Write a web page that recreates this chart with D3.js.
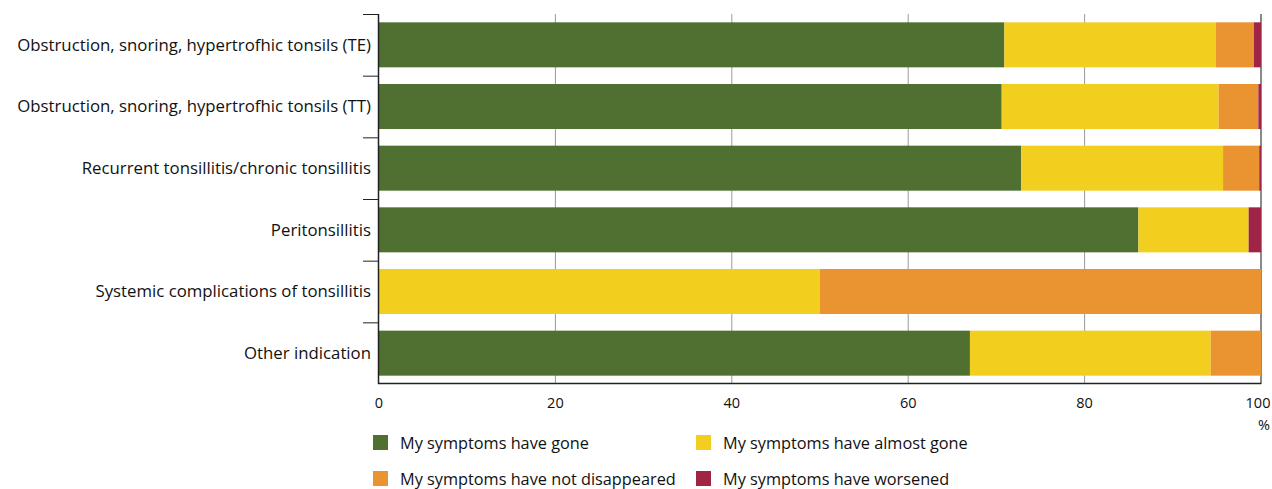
<!DOCTYPE html>
<html>
<head>
<meta charset="utf-8">
<style>
body { margin: 0; background: #fff; }
text { font-family: "Open Sans", "Noto Sans", sans-serif; fill: #111; }
</style>
</head>
<body>
<svg width="1272" height="489"></svg>
<script src="https://d3js.org/d3.v7.min.js"></script>
<script>
var categories = [
  "Obstruction, snoring, hypertrofhic tonsils (TE)",
  "Obstruction, snoring, hypertrofhic tonsils (TT)",
  "Recurrent tonsillitis/chronic tonsillitis",
  "Peritonsillitis",
  "Systemic complications of tonsillitis",
  "Other indication"
];
var seriesNames = [
  "My symptoms have gone",
  "My symptoms have almost gone",
  "My symptoms have not disappeared",
  "My symptoms have worsened"
];
var gone       = [70.9, 70.6, 72.8, 86.1, 0, 67.0];
var almostGone = [24.0, 24.6, 22.9, 12.5, 50, 27.3];
var notGone    = [4.3, 4.5, 4.1, 0, 50, 5.7];
var worsened   = [0.8, 0.3, 0.2, 1.4, 0, 0];
var xTicks = [0, 20, 40, 60, 80, 100];
var colors = ["#507032", "#f2cf1f", "#ea9331", "#a02446"];

var svg = d3.select("svg");
var mLeft = 379, mRight = 1261, mTop = 14, mBottom = 384;

var rows = categories.map(function(c, i) {
  return { cat: c, s0: gone[i], s1: almostGone[i], s2: notGone[i], s3: worsened[i] };
});
var stack = d3.stack().keys(["s0", "s1", "s2", "s3"])(rows);

var x = d3.scaleLinear().domain([0, 100]).range([mLeft, mRight]);
var y = d3.scaleBand().domain(categories).range([mTop, mBottom]).paddingInner(0.27).paddingOuter(0.135);

// gridlines
svg.append("g").selectAll("line")
  .data(xTicks.slice(1))
  .enter().append("line")
    .attr("x1", function(d) { return x(d); })
    .attr("x2", function(d) { return x(d); })
    .attr("y1", mTop)
    .attr("y2", mBottom)
    .attr("stroke", function(d) { return d == 100 ? "#8a8a8a" : "#9a9a9a"; })
    .attr("stroke-width", function(d) { return d == 100 ? 2 : 1; });

// bars
svg.append("g").selectAll("g")
  .data(stack)
  .enter().append("g")
    .attr("fill", function(d, i) { return colors[i]; })
  .selectAll("rect")
  .data(function(d) { return d; })
  .enter().append("rect")
    .attr("x", function(d) { return x(d[0]); })
    .attr("width", function(d) { return x(d[1]) - x(d[0]); })
    .attr("y", function(d) { return y(d.data.cat); })
    .attr("height", y.bandwidth());

// left axis, ticks at band boundaries
var step = y.step();
var bounds = d3.range(categories.length).map(function(i) { return mTop + i * step; });
svg.append("g").selectAll("line")
  .data(bounds)
  .enter().append("line")
    .attr("x1", mLeft - 16).attr("x2", mLeft)
    .attr("y1", function(d) { return d + 0.5; }).attr("y2", function(d) { return d + 0.5; })
    .attr("stroke", "#222");
svg.append("line")
  .attr("x1", mLeft - 0.5).attr("x2", mLeft - 0.5)
  .attr("y1", mTop).attr("y2", mBottom)
  .attr("stroke", "#222").attr("stroke-width", 1.5);
svg.append("line")
  .attr("x1", mLeft - 1).attr("x2", mRight)
  .attr("y1", mBottom - 0.5).attr("y2", mBottom - 0.5)
  .attr("stroke", "#222").attr("stroke-width", 1.5);

svg.append("g").selectAll("text")
  .data(categories)
  .enter().append("text")
    .attr("x", mLeft - 8)
    .attr("y", function(d) { return y(d) + y.bandwidth() / 2; })
    .attr("dy", "0.35em")
    .attr("text-anchor", "end")
    .attr("font-size", 16.8)
    .text(function(d) { return d; });

// x tick labels
svg.append("g").selectAll("text")
  .data(xTicks)
  .enter().append("text")
    .attr("x", function(d) { return d == 100 ? x(d) - 3 : x(d); })
    .attr("y", 408)
    .attr("text-anchor", "middle")
    .attr("font-size", 14.5)
    .attr("font-weight", 500)
    .text(function(d) { return d; });
svg.append("text")
  .attr("x", 1264).attr("y", 430)
  .attr("text-anchor", "middle")
  .attr("font-size", 14.5)
  .attr("font-weight", 500)
  .text("%");

// legend
var legPos = [[373, 435], [696, 435], [373, 471], [696, 471]];
var leg = svg.append("g").selectAll("g")
  .data(seriesNames)
  .enter().append("g")
    .attr("transform", function(d, i) { return "translate(" + legPos[i][0] + "," + legPos[i][1] + ")"; });
leg.append("rect")
  .attr("width", 15).attr("height", 15)
  .attr("fill", function(d, i) { return colors[i]; });
leg.append("text")
  .attr("x", 27).attr("y", 8)
  .attr("dy", "0.35em")
  .attr("font-size", 16.3)
  .text(function(d) { return d; });
</script>
</body>
</html>
